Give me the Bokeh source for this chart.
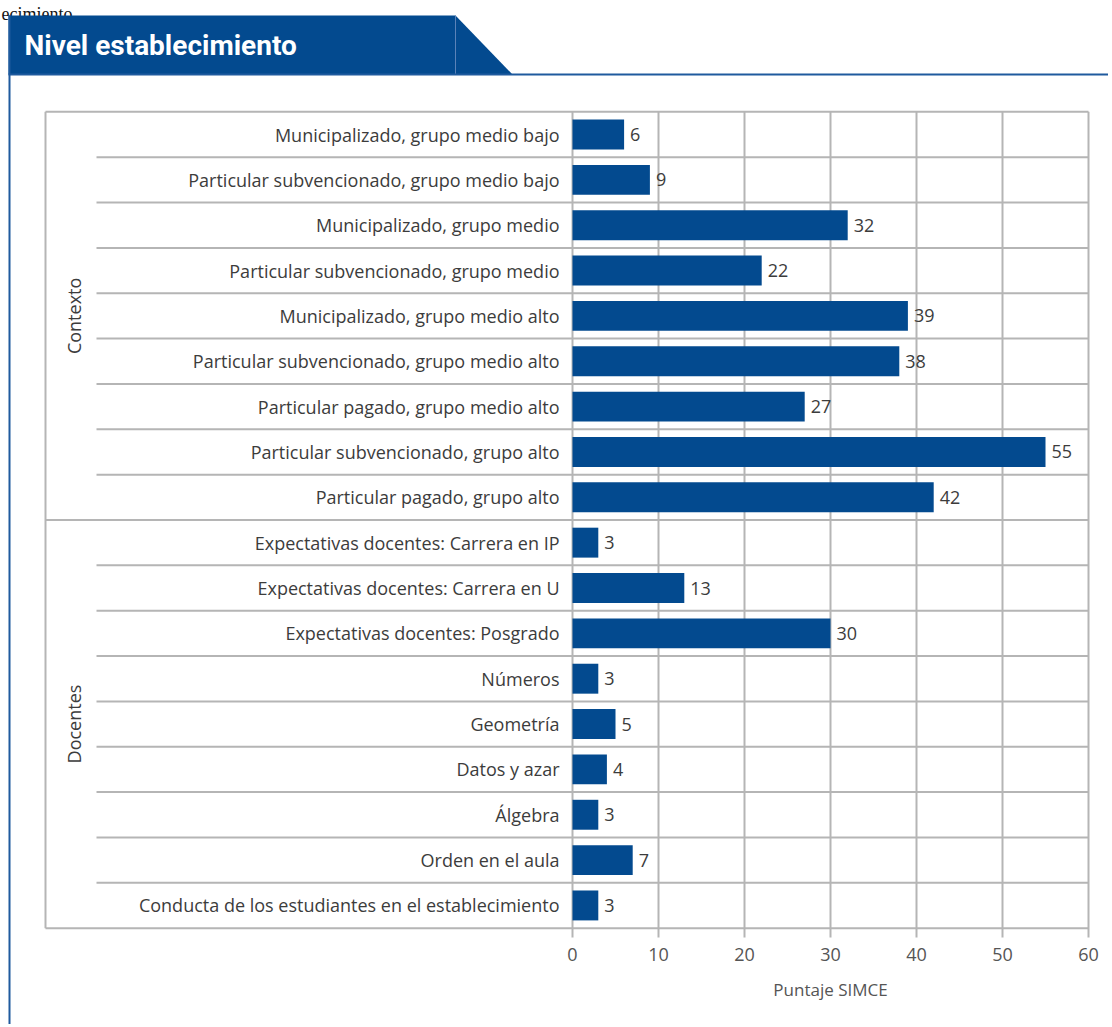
from bokeh.plotting import figure
from bokeh.models import Range1d, LinearAxis, FixedTicker, ColumnDataSource
from bokeh.core.properties import value
from bokeh.embed import file_html
from bokeh.resources import INLINE
import math

# ---------------- data ----------------
categories = [
    "Municipalizado, grupo medio bajo",
    "Particular subvencionado, grupo medio bajo",
    "Municipalizado, grupo medio",
    "Particular subvencionado, grupo medio",
    "Municipalizado, grupo medio alto",
    "Particular subvencionado, grupo medio alto",
    "Particular pagado, grupo medio alto",
    "Particular subvencionado, grupo alto",
    "Particular pagado, grupo alto",
    "Expectativas docentes: Carrera en IP",
    "Expectativas docentes: Carrera en U",
    "Expectativas docentes: Posgrado",
    "Números",
    "Geometría",
    "Datos y azar",
    "Álgebra",
    "Orden en el aula",
    "Conducta de los estudiantes en el establecimiento",
]
scores = [6, 9, 32, 22, 39, 38, 27, 55, 42, 3, 13, 30, 3, 5, 4, 3, 7, 3]
groups = ["Contexto", "Docentes"]
group_sizes = [9, 9]
x_ticks = [0, 10, 20, 30, 40, 50, 60]
title_text = "Nivel establecimiento"
x_label = "Puntaje SIMCE"
page_fragment = "ecimiento"

# ---------------- layout helpers (page pixel -> data) ----------------
W, H = 1108, 1024
OX, OY = 0, 0
X0_PX, PX_PER_UNIT = 572.0, 8.6
ROW0_PX, ROW_PX = 134.0, 45.35

def px_x(sx):
    return (sx - X0_PX) / PX_PER_UNIT

def px_y(sy):
    return (sy - ROW0_PX) / ROW_PX

BLUE = "#034a8f"
GRID = "#b5b5b5"
TEXT = "#3c3c3c"
FONT = "Open Sans"

p = figure(width=W, height=H, output_backend="svg", toolbar_location=None,
           x_range=Range1d(px_x(OX), px_x(OX + W)),
           y_range=Range1d(px_y(OY + H), px_y(OY)),
           x_axis_location=None, y_axis_location=None,
           min_border=0, outline_line_color=None)
p.xgrid.visible = False
p.ygrid.visible = False
p.background_fill_color = "white"
p.border_fill_color = "white"

n = len(categories)
idx = list(range(n))
top = -0.5
bottom = n - 0.5
xmax = x_ticks[-1]
box_left = px_x(45)

# page text fragment at the very top
p.text(x=[px_x(1)], y=[px_y(13)], text=[page_fragment],
       text_font=value("Liberation Serif"), text_font_size="18px",
       text_color="#111111", text_baseline="alphabetic", text_align="left")

# header banner
p.patch([px_x(8), px_x(455), px_x(512), px_x(8)],
        [px_y(15), px_y(15), px_y(74), px_y(74)],
        fill_color=BLUE, line_color=None)
p.segment(x0=[px_x(455)], y0=[px_y(15)], x1=[px_x(455)], y1=[px_y(74)],
          line_color="#5b82b8", line_width=1)
p.segment(x0=[px_x(8)], y0=[px_y(74)], x1=[px_x(OX + W)], y1=[px_y(74)],
          line_color="#1f5a9e", line_width=2)
p.segment(x0=[px_x(9)], y0=[px_y(15)], x1=[px_x(9)], y1=[px_y(OY + H)],
          line_color="#1f5a9e", line_width=2)
p.text(x=[px_x(24)], y=[px_y(45)], text=[title_text],
       text_font=value("Roboto"), text_font_style="bold", text_font_size="28px",
       text_color="white", text_baseline="middle", text_align="left")

# row separators
sep_y = [i + 0.5 for i in range(n - 1)]
group_bounds = []
acc = 0
for gs in group_sizes[:-1]:
    acc += gs
    group_bounds.append(acc - 0.5)
row_sep = [y for y in sep_y if y not in group_bounds]
p.segment(x0=[px_x(96)] * len(row_sep), y0=row_sep, x1=[xmax] * len(row_sep), y1=row_sep,
          line_color=GRID, line_width=2)
p.segment(x0=[box_left] * len(group_bounds), y0=group_bounds,
          x1=[xmax] * len(group_bounds), y1=group_bounds,
          line_color=GRID, line_width=2)

# vertical gridlines (extend below as ticks)
tick_bottom = px_y(937)
p.segment(x0=x_ticks, y0=[top] * len(x_ticks), x1=x_ticks, y1=[tick_bottom] * len(x_ticks),
          line_color=GRID, line_width=2)

# box border
p.segment(x0=[box_left, box_left, box_left], y0=[top, bottom, top],
          x1=[xmax, xmax, box_left], y1=[top, bottom, bottom],
          line_color=GRID, line_width=2)

# bars
src = ColumnDataSource(dict(y=idx, v=scores, lab=[str(s) for s in scores], cat=categories))
p.hbar(y="y", left=0, right="v", height=0.66, source=src,
       fill_color=BLUE, line_color=None)
p.text(x="v", y="y", text="lab", source=src, x_offset=6,
       text_font=value(FONT), text_font_size="18px", text_color=TEXT,
       text_baseline="middle", text_align="left")

# category labels
p.text(x=[px_x(559)] * n, y=idx, text=categories,
       text_font=value(FONT), text_font_size="18px", text_color=TEXT,
       text_baseline="middle", text_align="right")

# group labels
gstart = 0
gx, gy = [], []
for gs in group_sizes:
    gy.append(gstart + (gs - 1) / 2)
    gx.append(px_x(73))
    gstart += gs
p.text(x=gx, y=gy, text=groups, angle=math.pi / 2,
       text_font=value(FONT), text_font_size="18px", text_color=TEXT,
       text_baseline="middle", text_align="center")

# x axis
ax = LinearAxis(ticker=FixedTicker(ticks=x_ticks), fixed_location=bottom,
                axis_label=x_label, bounds=(x_ticks[0], x_ticks[-1]))
ax.axis_line_color = None
ax.major_tick_line_color = None
ax.minor_tick_line_color = None
ax.major_tick_out = 9
ax.major_label_standoff = 11
ax.major_label_text_font = FONT
ax.major_label_text_font_size = "18px"
ax.major_label_text_color = "#555555"
ax.axis_label_text_font = FONT
ax.axis_label_text_font_size = "17px"
ax.axis_label_text_font_style = "normal"
ax.axis_label_text_color = "#555555"
ax.axis_label_standoff = 13
p.add_layout(ax, "below")

open("out.html", "w").write(file_html(p, INLINE))
